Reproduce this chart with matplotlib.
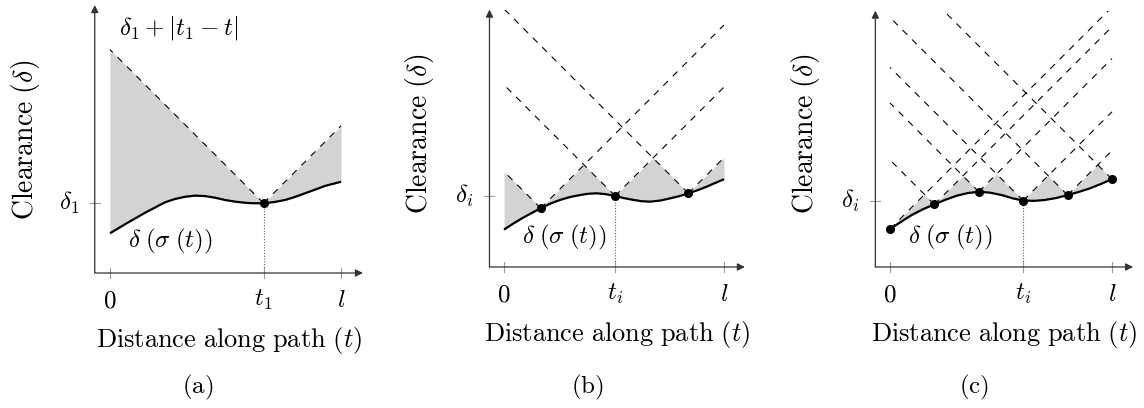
"""Three-panel sketch: clearance along a path with the cone bounds
delta_k + |t_k - t| drawn from sampled points (panels a, b, c)."""
import matplotlib
matplotlib.use("Agg")
import matplotlib.pyplot as plt
import numpy as np

plt.rcParams["mathtext.fontset"] = "cm"

W, H = 1144, 408
FS_TXT = 19     # words (Clearance, Distance ...)
FS_MATH = 18    # symbols / formulas

# ---- data (t normalised so that l = 1) ----
# panel (a): one sample at t_1
A_T = [0.0, 0.065, 0.152, 0.238, 0.28, 0.325, 0.368, 0.411, 0.455, 0.498,
       0.541, 0.584, 0.62, 0.665, 0.71, 0.758, 0.8, 0.844, 0.888, 0.931, 1.0]
A_Y = [0.172, 0.211, 0.261, 0.306, 0.320, 0.330, 0.335, 0.333, 0.326, 0.316,
       0.309, 0.304, 0.302, 0.302, 0.307, 0.316, 0.329, 0.345, 0.361, 0.377,
       0.395]
A_DOTS = [0.665]

# panel (b): three samples
B_T = [0.0, 0.04, 0.083, 0.125, 0.167, 0.21, 0.255, 0.3, 0.345, 0.383,
       0.421, 0.463, 0.505, 0.546, 0.588, 0.626, 0.664, 0.71, 0.755, 0.797,
       0.838, 0.88, 0.921, 0.96, 1.0]
B_Y = [0.170, 0.196, 0.222, 0.245, 0.267, 0.288, 0.305, 0.318, 0.327, 0.333,
       0.335, 0.331, 0.323, 0.313, 0.305, 0.299, 0.297, 0.302, 0.312, 0.322,
       0.335, 0.349, 0.365, 0.382, 0.399]
B_DOTS = [0.167, 0.505, 0.838]

# panel (c): six samples
C_T = [0.0, 0.05, 0.098, 0.15, 0.2, 0.25, 0.3, 0.35, 0.4, 0.45, 0.503,
       0.55, 0.6, 0.65, 0.698, 0.75, 0.8, 0.85, 0.9, 0.95, 1.0]
C_Y = [0.171, 0.204, 0.234, 0.261, 0.282, 0.303, 0.321, 0.333, 0.339, 0.335,
       0.324, 0.310, 0.299, 0.298, 0.302, 0.311, 0.324, 0.338, 0.354, 0.374,
       0.396]
C_DOTS = [0.0, 0.2, 0.4, 0.6, 0.8, 1.0]

PANELS = [
    dict(t=A_T, y=A_Y, dots=A_DOTS, mark=0.665, mark_lbl=r"$t_1$",
         d_lbl=r"$\delta_1$", cap=r"$\mathrm{(a)}$",
         # layout: px per unit, px of t=0, px of y=0 (from top), y top
         s=231, px0=110, py0=273, ytop=1.16),
    dict(t=B_T, y=B_Y, dots=B_DOTS, mark=0.505, mark_lbl=r"$t_i$",
         d_lbl=r"$\delta_i$", cap=r"$\mathrm{(b)}$",
         s=220, px0=504, py0=267, ytop=1.17),
    dict(t=C_T, y=C_Y, dots=C_DOTS, mark=0.6, mark_lbl=r"$t_i$",
         d_lbl=r"$\delta_i$", cap=r"$\mathrm{(c)}$",
         s=222, px0=890, py0=267, ytop=1.155),
]

fig = plt.figure(figsize=(W / 100, H / 100), dpi=100)

X0, X1 = -0.066, 1.095
AX_COL = "#333333"
TICK_COL = "#9a9a9a"

for p in PANELS:
    s, px0, py0, ytop = p["s"], p["px0"], p["py0"], p["ytop"]
    left = (px0 + X0 * s) / W
    bottom = (H - py0) / H
    ax = fig.add_axes([left, bottom, (X1 - X0) * s / W, ytop * s / H])
    ax.set_xlim(X0, X1)
    ax.set_ylim(0, ytop)
    ax.axis("off")

    t = np.asarray(p["t"])
    y = np.asarray(p["y"])
    dt = np.asarray(p["dots"])
    dy = np.interp(dt, t, y)

    # lower envelope of the cones, and the shaded gap above the curve
    tt = np.linspace(0, 1, 2001)
    env = np.min(dy[:, None] + np.abs(dt[:, None] - tt[None, :]), axis=0)
    cur = np.interp(tt, t, y)
    ax.fill_between(tt, cur, env, where=env >= cur, color="#d3d3d3",
                    lw=0, interpolate=True, zorder=1)

    # dashed cones from every sample
    for tk, yk in zip(dt, dy):
        for tend in (0.0, 1.0):
            if tend == tk:
                continue
            ax.plot([tk, tend], [yk, yk + abs(tk - tend)], color="black",
                    lw=0.8, dashes=(6, 6), zorder=2)

    # vertical dotted guide at the marked sample
    ym = np.interp(p["mark"], t, y)
    ax.plot([p["mark"], p["mark"]], [0, ym], color="#666666", lw=0.8,
            ls=(0, (1, 1.5)), zorder=2, clip_on=False)

    ax.plot(t, y, color="black", lw=1.6, zorder=3, solid_capstyle="butt",
            solid_joinstyle="round")
    ax.plot(dt, dy, "o", color="black", ms=5.5, zorder=4, clip_on=False)

    # axes with arrow heads
    ax.annotate("", xy=(X1, 0), xytext=(X0, 0), annotation_clip=False,
                arrowprops=dict(arrowstyle="-|>", color=AX_COL, lw=0.9,
                                mutation_scale=11, shrinkA=0, shrinkB=0))
    ax.annotate("", xy=(X0, ytop), xytext=(X0, 0), annotation_clip=False,
                arrowprops=dict(arrowstyle="-|>", color=AX_COL, lw=0.9,
                                mutation_scale=11, shrinkA=0, shrinkB=0))

    # ticks
    tk_h = 5 / s
    for xv, lbl in zip([0, p["mark"], 1], [r"$0$", p["mark_lbl"], r"$l$"]):
        ax.plot([xv, xv], [-tk_h, tk_h], color=TICK_COL, lw=0.8,
                clip_on=False, zorder=2)
        ax.text(xv, -27 / s, lbl, ha="center", va="center", fontsize=FS_MATH,
                clip_on=False)
    ax.plot([X0 - tk_h, X0 + tk_h], [ym, ym], color=TICK_COL, lw=0.8,
            clip_on=False)
    ax.text(-31 / s, ym, p["d_lbl"], ha="right", va="center",
            fontsize=FS_MATH)

    # labels
    ax.text(0.08, 0.135, r"$\delta\;(\sigma\;(t))$", ha="left",
            va="center", fontsize=FS_MATH)
    ax.text(0.515, -67 / s, r"$\mathrm{Distance\ along\ path}\ (t)$",
            ha="center", va="center", fontsize=FS_TXT)
    ax.text(-85 / s, 133 / s, r"$\mathrm{Clearance}\ (\delta)$",
            ha="center", va="center", rotation=90, fontsize=FS_TXT + 1)
    ax.text(0.38, (py0 - 387) / s, p["cap"], ha="center", va="center",
            fontsize=FS_TXT - 1)

    if p is PANELS[0]:
        ax.text(0.04, 1.06, r"$\delta_1 + |t_1 - t|$", ha="left",
                va="center", fontsize=FS_MATH)

fig.savefig("out.png", dpi=100)
